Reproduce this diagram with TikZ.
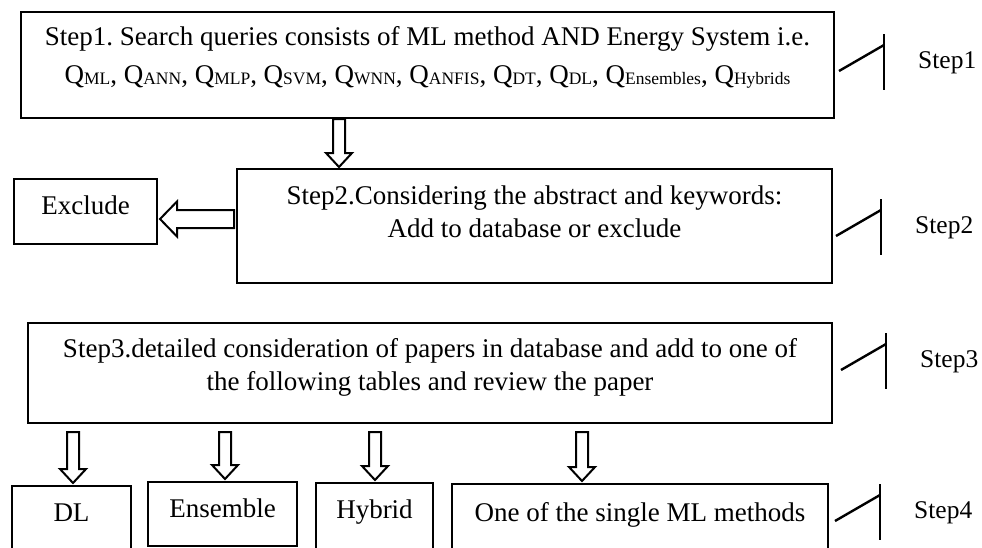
\documentclass[tikz,border=0pt]{standalone}
\usepackage{fontspec}
\setmainfont{Liberation Serif}
\usetikzlibrary{positioning,calc}
\frenchspacing

\newcommand{\stepfont}{\fontsize{27}{33}\selectfont}
\newcommand{\labfont}{\fontsize{25.5}{30}\selectfont}
\newcommand{\qsub}[1]{Q\raisebox{-1.5pt}{\fontsize{17.5}{17.5}\selectfont #1}}
\newcommand{\hollowdown}[2]{%
  \path[hollow] let \p1=#1, \p2=#2 in
    (\x1-6pt,\y1) -- (\x1+6pt,\y1) -- (\x1+6pt,\y2+14pt) -- (\x1+13pt,\y2+14pt)
    -- (\x1,\y2) -- (\x1-13pt,\y2+14pt) -- (\x1-6pt,\y2+14pt) -- cycle;}
\newcommand{\hollowleft}[2]{%
  \path[hollow] let \p1=#1, \p2=#2 in
    (\x1,\y1+9pt) -- (\x2+17pt,\y1+9pt) -- (\x2+17pt,\y1+17.5pt) -- (\x2,\y1)
    -- (\x2+17pt,\y1-17.5pt) -- (\x2+17pt,\y1-9pt) -- (\x1,\y1-9pt) -- cycle;}

\tikzset{
  stepbox/.style={draw, line width=2.4pt, rectangle, anchor=north west, inner sep=0pt, outer sep=0pt},
  steptext/.style={align=center, inner sep=0pt, anchor=north, font=\stepfont},
  marktext/.style={inner sep=0pt, anchor=base west, font=\labfont},
  hollow/.style={draw, line width=2pt, line join=miter},
  pics/stepmark/.style={code={
    \draw[line width=2.4pt] (0,-28) -- (0,28);
    \draw[line width=2.4pt] (-45,9) -- (0,-17);
  }},
}

\begin{document}
\begin{tikzpicture}[x=1pt,y=-1pt]
\fill[white] (0,0) rectangle (982,547);
\useasboundingbox (0,0) rectangle (982,547);

\node[stepbox, minimum width=813pt, minimum height=106pt] (s1) at (21,12) {};
\node[steptext, below=14pt of s1.north] (t1) {Step1. Search queries consists of ML method AND Energy System i.e.\\[5pt]
  \qsub{ML}, \qsub{ANN}, \qsub{MLP}, \qsub{SVM}, \qsub{WNN}, \qsub{ANFIS}, \qsub{DT}, \qsub{DL}, \qsub{Ensembles}, \qsub{Hybrids}};

\node[stepbox, minimum width=595pt, minimum height=114pt] (s2) at (237,169) {};
\node[steptext, below=17pt of s2.north] (t2) {Step2.Considering the abstract and keywords:\\Add to database or exclude};

\node[stepbox, minimum width=143pt, minimum height=65pt] (ex) at (14,179) {};
\node[steptext, below=17pt of ex.north] (tex) {Exclude};

\node[stepbox, minimum width=804pt, minimum height=100pt] (s3) at (28,323) {};
\node[steptext, below=15pt of s3.north] (t3) {Step3.detailed consideration of papers in database and add to one of\\the following tables and review the paper};

\node[stepbox, minimum width=119pt, minimum height=66pt] (b1) at (12,486) {};
\node[steptext, below=18pt of b1.north] (tb1) {DL};
\node[stepbox, minimum width=149pt, minimum height=64pt] (b2) at (148,482) {};
\node[steptext, below=17pt of b2.north] (tb2) {Ensemble};
\node[stepbox, minimum width=117pt, minimum height=68pt] (b3) at (316,483) {};
\node[steptext, below=17pt of b3.north] (tb3) {Hybrid};
\node[stepbox, minimum width=376pt, minimum height=68pt] (b4) at (452,484) {};
\node[steptext, below=18pt of b4.north] (tb4) {One of the single ML methods};

\coordinate (a1) at ([xshift=318pt]s1.south west);
\hollowdown{([yshift=-1pt]a1)}{([yshift=2pt]a1 |- s2.north)};
\coordinate (a2) at ([yshift=7pt]s2.west);
\hollowleft{([xshift=-3pt]a2)}{([xshift=3pt]ex.east |- a2)};

\foreach \bx/\x in {b1/73,b2/225,b3/375,b4/582}{
  \coordinate (c\bx) at (\x,432);
  \hollowdown{(c\bx)}{([yshift=3pt]c\bx |- \bx.north)};
}

\foreach \i/\x/\y in {1/918/68,2/915/233,3/920/367,4/914/518}{
  \node[marktext] (lab\i) at (\x,\y) {Step\i};
  \pic at ($(lab\i.base west)+(-34,-6)$) {stepmark};
}
\end{tikzpicture}
\end{document}
